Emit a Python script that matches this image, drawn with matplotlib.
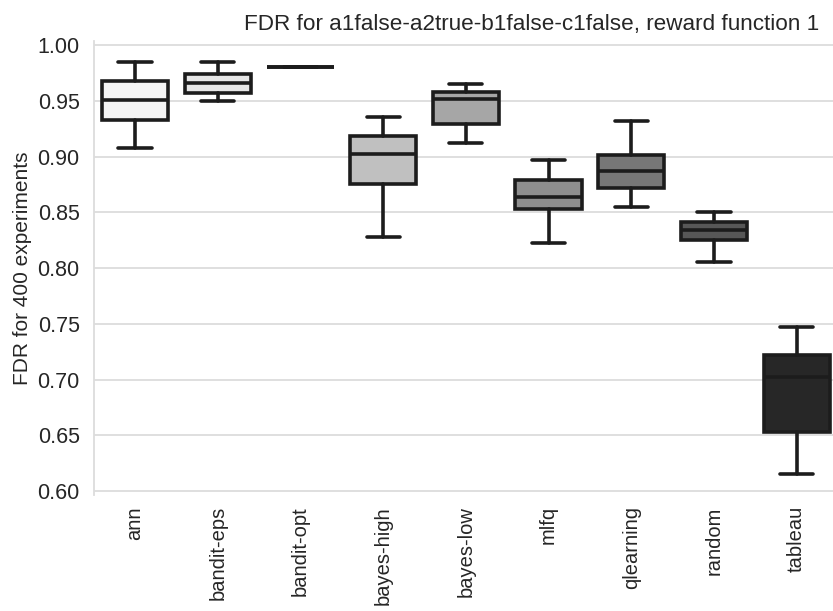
import numpy as np
import matplotlib
matplotlib.use("Agg")
import matplotlib.pyplot as plt
import seaborn as sns

# box statistics per agent (whisker ends, quartiles, median)
agents = ["ann", "bandit-eps", "bandit-opt", "bayes-high", "bayes-low",
          "mlfq", "qlearning", "random", "tableau"]
whislo = [0.908, 0.950, 0.980, 0.828, 0.912, 0.822, 0.855, 0.805, 0.615]
q1 = [0.933, 0.957, 0.980, 0.875, 0.929, 0.853, 0.872, 0.825, 0.653]
med = [0.951, 0.966, 0.980, 0.902, 0.952, 0.864, 0.887, 0.834, 0.702]
q3 = [0.968, 0.974, 0.980, 0.918, 0.958, 0.879, 0.901, 0.841, 0.722]
whishi = [0.985, 0.985, 0.980, 0.935, 0.965, 0.897, 0.932, 0.850, 0.747]
colors = ["#f4f4f4", "#e6e6e6", "#d4d4d4", "#c0c0c0", "#a6a6a6",
          "#8e8e8e", "#777777", "#575757", "#272727"]

sns.set_style("whitegrid")
plt.rcParams['font.family'] = ['Liberation Sans', 'DejaVu Sans']

fig = plt.figure(figsize=(8.33, 6.11), dpi=100)
ax = fig.add_axes([0.1124, 0.1898, 0.8937, 0.7431])

stats = []
for i, name in enumerate(agents):
    stats.append(dict(label=name, whislo=whislo[i], q1=q1[i], med=med[i],
                      q3=q3[i], whishi=whishi[i], fliers=[]))

line_c = "#1c1c1c"
lw = 2.6
bp = ax.bxp(stats, positions=np.arange(len(agents)), widths=0.8,
            patch_artist=True, showfliers=False,
            boxprops=dict(edgecolor=line_c, linewidth=lw),
            medianprops=dict(color=line_c, linewidth=lw),
            whiskerprops=dict(color=line_c, linewidth=lw),
            capprops=dict(color=line_c, linewidth=lw), capwidths=0.4)
for patch, c in zip(bp["boxes"], colors):
    patch.set_facecolor(c)

ax.set_xlim(-0.5, len(agents) - 0.5)
ax.set_ylim(0.5964, 1.0036)
ax.set_yticks(np.arange(0.60, 1.001, 0.05))
ax.set_yticklabels([f"{v:.2f}" for v in np.arange(0.60, 1.001, 0.05)])
ax.set_xticks(np.arange(len(agents)))
ax.set_xticklabels(agents, rotation=90)
ax.tick_params(axis="both", colors="#262626", length=0)
ax.tick_params(axis="y", labelsize=15.5, pad=10)
ax.tick_params(axis="x", labelsize=14.5, pad=8)

ax.grid(axis="x", visible=False)
ax.grid(axis="y", color="#dcdcdc", linewidth=1.3)
for side in ["top", "right", "bottom"]:
    ax.spines[side].set_visible(False)
ax.spines["left"].set_color("#dcdcdc")
ax.spines["left"].set_linewidth(1.3)

ax.set_ylabel("FDR for 400 experiments", fontsize=15, color="#262626")
ax.set_title("FDR for a1false-a2true-b1false-c1false, reward function 1",
             fontsize=16.2, color="#262626", x=0.589, pad=8)

fig.savefig("out.png", dpi=100)
